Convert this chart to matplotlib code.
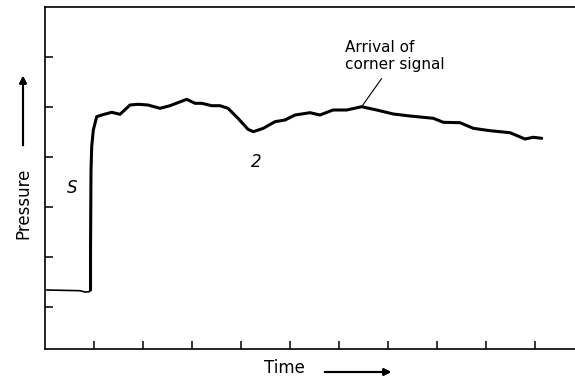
import matplotlib.pyplot as plt

# pressure trace (time in tick units, pressure in tick units)
time = [0.035, 0.714, 0.816, 0.904, 0.929, 0.929, 0.939, 0.953, 0.986, 1.055,
        1.157, 1.361, 1.531, 1.735, 1.898, 2.102, 2.347, 2.551, 2.892, 3.061,
        3.198, 3.402, 3.571, 3.735, 3.939, 4.143, 4.251, 4.455, 4.694, 4.898,
        5.102, 5.408, 5.612, 5.878, 6.157, 6.463, 6.769, 7.108, 7.449, 7.924,
        8.129, 8.469, 8.741, 9.082, 9.490, 9.796, 9.965, 10.137]
pressure = [1.34, 1.326, 1.30, 1.306, 1.34, 2.14, 3.74, 4.206, 4.54, 4.806,
            4.84, 4.894, 4.854, 5.04, 5.054, 5.04, 4.974, 5.026, 5.154, 5.074,
            5.074, 5.026, 5.026, 4.974, 4.774, 4.554, 4.506, 4.574, 4.706, 4.74,
            4.84, 4.886, 4.84, 4.94, 4.94, 5.006, 4.94, 4.86, 4.82, 4.774,
            4.694, 4.686, 4.574, 4.526, 4.486, 4.36, 4.394, 4.374]
n_before = 5  # points before the shock front (drawn thinner)

x_ticks = [1, 2, 3, 4, 5, 6, 7, 8, 9, 10]
y_ticks = [1, 2, 3, 4, 5, 6]

corner_point = (6.463, 5.006)
corner_label = 'Arrival of\ncorner signal'

fig = plt.figure(figsize=(5.75, 3.84), dpi=100)
ax = fig.add_axes([45 / 575, 35 / 384, 530 / 575, 342 / 384])

ax.plot(time[:n_before], pressure[:n_before], color='black', lw=1.2,
        solid_capstyle='round')
ax.plot(time[n_before - 1:], pressure[n_before - 1:], color='black', lw=2.2,
        solid_joinstyle='round', solid_capstyle='round')

ax.set_xlim(0, 530 / 49)
ax.set_ylim(0.16, 7.0)
ax.set_xticks(x_ticks)
ax.set_yticks(y_ticks)
ax.set_xticklabels([])
ax.set_yticklabels([])
ax.tick_params(direction='in', length=6, width=1.1)
ax.spines['right'].set_visible(False)
for s in ['left', 'top', 'bottom']:
    ax.spines[s].set_linewidth(1.2)

# labels
ax.text(0.55, 3.38, 'S', fontsize=12, style='italic', ha='center', va='center')
ax.text(4.31, 3.9, '2', fontsize=12, style='italic', ha='center', va='center')
ax.text(6.12, 6.02, corner_label, fontsize=11, ha='left', va='center',
        linespacing=1.25)
ax.annotate('', xy=corner_point, xytext=(6.87, 5.57),
            arrowprops=dict(arrowstyle='-', color='black', lw=0.8,
                            shrinkA=0, shrinkB=0))

fig.text(23 / 575, 1 - 203 / 384, 'Pressure', rotation=90, fontsize=12,
         ha='center', va='center')
fig.text(284 / 575, 1 - 368 / 384, 'Time', fontsize=12, ha='center', va='center')

# axis arrows
fig.add_artist(plt.annotate('', xy=(23 / 575, 1 - 73 / 384), xytext=(23 / 575, 1 - 148 / 384),
                            xycoords='figure fraction', textcoords='figure fraction',
                            arrowprops=dict(arrowstyle='-|>', color='black', lw=1.5,
                                            mutation_scale=10)))
fig.add_artist(plt.annotate('', xy=(394 / 575, 1 - 372 / 384), xytext=(322 / 575, 1 - 372 / 384),
                            xycoords='figure fraction', textcoords='figure fraction',
                            arrowprops=dict(arrowstyle='-|>', color='black', lw=1.5,
                                            mutation_scale=10)))

fig.savefig('out.png', dpi=100)
